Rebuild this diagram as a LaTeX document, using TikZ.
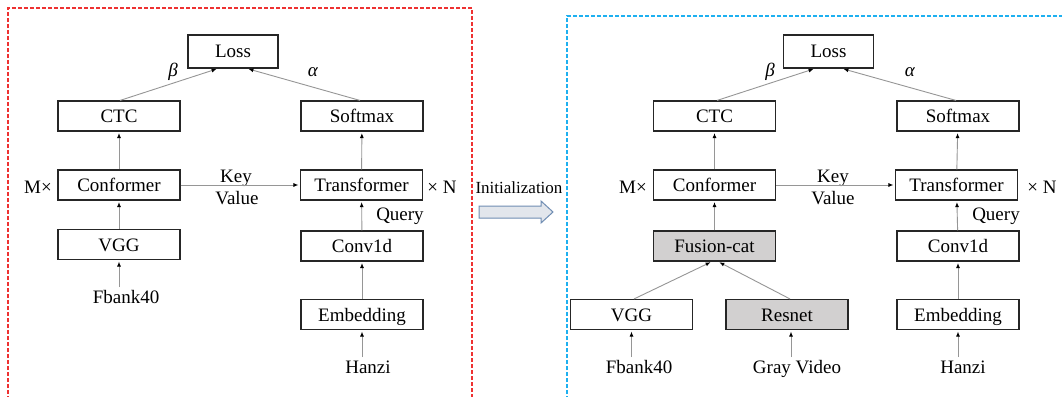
\documentclass[tikz,border=0pt]{standalone}
\usepackage{fontspec}
\setmainfont{Liberation Serif}
\newfontfamily\tnr{Liberation Serif}
\usetikzlibrary{arrows.meta}
\definecolor{redline}{RGB}{238,50,50}
\definecolor{blueline}{RGB}{30,176,240}
\definecolor{boxgray}{RGB}{210,208,208}
\definecolor{conngray}{RGB}{150,150,150}
\definecolor{barrowfill}{RGB}{226,230,236}
\definecolor{barrowline}{RGB}{111,141,179}
\begin{document}
\begin{tikzpicture}[x=1pt,y=-1pt,
  box/.style={draw=black!85, line width=1.1pt, minimum height=30pt, minimum width=122pt,
    inner sep=0pt, text height=13pt, text depth=0pt, font=\tnr\fontsize{19}{22}\selectfont},
  graybox/.style={box, fill=boxgray},
  lbl/.style={anchor=base, inner sep=0pt, font=\tnr\fontsize{19}{22}\selectfont},
  arr/.style={draw=conngray, line width=0.9pt, -{Latex[length=5pt,width=4pt,color=black]}, shorten >=1.5pt},
  reddash/.style={draw=redline, line width=1.1pt, dash pattern=on 4pt off 2pt},
  bluedash/.style={draw=blueline, line width=1.1pt, dash pattern=on 4pt off 2pt}]
\useasboundingbox (0,0) rectangle (1062,396);
\clip (0,0) rectangle (1062,396);
\fill[white] (0,0) rectangle (1062,396);

% frames
\draw[reddash] (8,400) -- (8,8) -- (472,8) -- (472,400);
\draw[bluedash] (567,400) -- (567,16) -- (1066,16);

% ---------- left diagram ----------
\node[box, minimum width=90pt, minimum height=33pt] (lossL) at (233,51.5) {Loss};
\node[box] (ctcL) at (119,116) {CTC};
\node[box] (smL) at (362,116) {Softmax};
\node[box] (confL) at (119,185) {Conformer};
\node[box] (trL) at (361.5,185) {Transformer};
\node[box] (vggL) at (119,244.5) {VGG};
\node[box] (convL) at (362,246) {Conv1d};
\node[box] (embL) at (362,314.5) {Embedding};
\node[lbl] (fbL) at (126,303) {Fbank40};
\node[lbl] (hzL) at (368,373) {Hanzi};
\node[lbl] (mL) at (38,193) {M×};
\node[lbl] (nL) at (442,193) {× N};
\node[lbl] (keyL) at (236,182) {Key};
\node[lbl] (valL) at (237,204) {Value};
\node[lbl] (qL) at (400,220) {Query};
\node[lbl] (betaL) at (173,77) {\textit{β}};
\node[lbl] (alphaL) at (313,77) {\textit{α}};

\draw[arr] ([xshift=1pt]ctcL.north) -- ([xshift=-15pt]lossL.south);
\draw[arr] ([xshift=-2pt]smL.north) -- ([xshift=14pt]lossL.south);
\draw[arr] (confL) -- (ctcL);
\draw[arr] (trL) -- (smL);
\draw[arr] (vggL) -- (confL);
\draw[arr] (convL) -- (trL);
\draw[arr] (embL) -- (convL);
\draw[arr] (confL.east) -- (trL.west);
\draw[arr] ([yshift=16pt]vggL.south |- fbL.base) -- (vggL.south);
\draw[arr] ([yshift=16pt]embL.south |- hzL.base) -- (embL.south);

% ---------- initialization arrow ----------
\node[anchor=base, inner sep=0pt, font=\tnr\fontsize{17}{20}\selectfont] (init) at (519,193) {Initialization};
\draw[draw=barrowline, fill=barrowfill, line width=1pt]
  (479,206) -- (541,206) -- (541,201) -- (553,212) -- (541,223) -- (541,218) -- (479,218) -- cycle;

% ---------- right diagram ----------
\node[box, minimum width=90pt, minimum height=33pt] (lossR) at (828.5,51.5) {Loss};
\node[box] (ctcR) at (714.5,116) {CTC};
\node[box] (smR) at (958,116) {Softmax};
\node[box] (confR) at (714.5,185) {Conformer};
\node[box] (trR) at (956.5,185) {Transformer};
\node[graybox] (fusR) at (714.5,246) {Fusion-cat};
\node[box] (convR) at (958,246) {Conv1d};
\node[box] (vggR) at (631.5,314.5) {VGG};
\node[graybox] (resR) at (787,314.5) {Resnet};
\node[box] (embR) at (958,314.5) {Embedding};
\node[lbl] (fbR) at (639,373) {Fbank40};
\node[lbl] (gvR) at (797,373) {Gray Video};
\node[lbl] (hzR) at (963,373) {Hanzi};
\node[lbl] (mR) at (633,193) {M×};
\node[lbl] (nR) at (1042,193) {× N};
\node[lbl] (keyR) at (833,182) {Key};
\node[lbl] (valR) at (833,204) {Value};
\node[lbl] (qR) at (996,220) {Query};
\node[lbl] (betaR) at (770,77) {\textit{β}};
\node[lbl] (alphaR) at (910,77) {\textit{α}};

\draw[arr] ([xshift=2.5pt]ctcR.north) -- ([xshift=-13.5pt]lossR.south);
\draw[arr] ([xshift=-2pt]smR.north) -- ([xshift=13.5pt]lossR.south);
\draw[arr] (confR) -- (ctcR);
\draw[arr] (trR) -- (smR);
\draw[arr] (fusR) -- (confR);
\draw[arr] (convR) -- (trR);
\draw[arr] (embR) -- (convR);
\draw[arr] (confR.east) -- (trR.west);
\draw[arr] ([xshift=2.5pt]vggR.north) -- ([xshift=-2.5pt]fusR.south);
\draw[arr] ([xshift=3pt]resR.north) -- ([xshift=3.5pt]fusR.south);
\draw[arr] ([yshift=16pt]vggR.south |- fbR.base) -- (vggR.south);
\draw[arr] ([yshift=16pt,xshift=4pt]resR.south |- gvR.base) -- ([xshift=4pt]resR.south);
\draw[arr] ([yshift=16pt]embR.south |- hzR.base) -- (embR.south);
\end{tikzpicture}
\end{document}
